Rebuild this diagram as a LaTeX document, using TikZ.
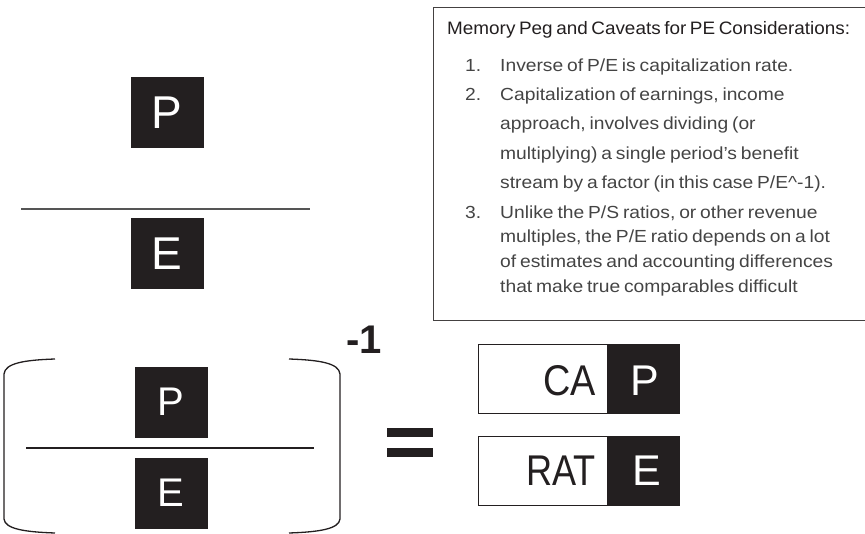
\documentclass[tikz,border=0pt]{standalone}
\usepackage{fontspec}
\setmainfont{Liberation Sans}
\newfontfamily\titlefont[FakeStretch=1.05]{Liberation Sans}
\newfontfamily\listfont[FakeStretch=1.1]{Liberation Sans}
\newcommand\titlesp{\spaceskip=0.2em\relax}
\newcommand\listsp{\spaceskip=0.22em plus 0.05em\relax}
\definecolor{boxfill}{HTML}{231F20}
\definecolor{listgray}{HTML}{444444}
\definecolor{rulegray}{HTML}{555555}
\begin{document}
\begin{tikzpicture}[x=1pt,y=-1pt,
  darkbox/.style={fill=boxfill,draw=boxfill,inner sep=0pt,text=white,
    minimum width=72pt,minimum height=70pt,anchor=north west,
    font=\fontsize{46}{46}\selectfont},
  smallbox/.style={darkbox,font=\fontsize{40}{40}\selectfont},
  listline/.style={inner sep=0pt,anchor=base west,text=listgray,
    font=\listfont\fontsize{17.5}{17.5}\selectfont\listsp},
  listnum/.style={listline},
  capbox/.style={draw=boxfill,line width=1.2pt,fill=white,inner sep=0pt,anchor=north west,
    minimum width=129pt,minimum height=69pt},
  captext/.style={inner sep=0pt,anchor=base east,font=\fontsize{43}{43}\selectfont,text=boxfill},
  brk/.style={draw=boxfill,line width=1.3pt}
]
\useasboundingbox (0,0) rectangle (865,534);

% ---- top fraction
\node[darkbox] (P1) at (131,77) {P};
\node[darkbox] (E1) at (131,218) {E};
\coordinate (L1a) at (21,209);
\coordinate (L1b) at (310,209);
\draw[rulegray,line width=1.7pt] (L1a) -- (L1b);

% ---- text box
\node[draw=boxfill!85,line width=1.3pt,anchor=north west,minimum width=440pt,minimum height=313pt,inner sep=0pt] (tb) at (433,7) {};
\node[inner sep=0pt,anchor=base west,text=boxfill,font=\titlefont\fontsize{18}{18}\selectfont\titlesp] (title) at (447,35) {Memory Peg and Caveats for PE Considerations:};
\node[listnum] (n1) at (465,72) {1.};
\node[listline] (t1) at (500,72) {Inverse of P/E is capitalization rate.};
\node[listnum] (n2) at (465,101) {2.};
\node[listline] (t2a) at (500,101) {Capitalization of earnings, income};
\node[listline] (t2b) at (500,130) {approach, involves dividing (or};
\node[listline] (t2c) at (500,160) {multiplying) a single period’s benefit};
\node[listline] (t2d) at (500,189) {stream by a factor (in this case P/E\textasciicircum-1).};
\node[listnum] (n3) at (465,219) {3.};
\node[listline] (t3a) at (500,219) {Unlike the P/S ratios, or other revenue};
\node[listline] (t3b) at (500,243) {multiples, the P/E ratio depends on a lot};
\node[listline] (t3c) at (500,268) {of estimates and accounting differences};
\node[listline] (t3d) at (500,293) {that make true comparables difficult};

% ---- bracketed fraction
\node[smallbox] (P2) at (135,367) {P};
\node[smallbox] (E2) at (135,458) {E};
\coordinate (L2a) at (26,448);
\coordinate (L2b) at (314,448);
\draw[boxfill,line width=1.1pt] (L2a) -- (L2b);
\coordinate (BLt) at (55,359);
\coordinate (BLb) at (55,533);
\coordinate (BRt) at (289,359);
\coordinate (BRb) at (289,533);
\draw[brk] (BLt) .. controls (25,360) and (5,363) .. (4,374) -- (4,519) .. controls (5,529) and (25,532) .. (BLb);
\draw[brk] (BRt) .. controls (319,360) and (339,363) .. (340,374) -- (340,519) .. controls (339,529) and (319,532) .. (BRb);
\node[inner sep=0pt,anchor=base west,font=\bfseries\fontsize{40}{40}\selectfont,text=boxfill] (exp) at (346,354) {-1};

% ---- equals
\node[fill=boxfill,inner sep=0pt,minimum width=46pt,minimum height=9pt,anchor=north west] (eqa) at (387,428) {};
\node[fill=boxfill,inner sep=0pt,minimum width=46pt,minimum height=9pt,anchor=north west] (eqb) at (387,448) {};

% ---- CAP / RATE
\node[capbox] (cab) at (478,344) {};
\node[darkbox,minimum height=69pt] (P3) at (607,344) {};
\node[inner sep=0pt,anchor=base,text=white,font=\fontsize{43}{43}\selectfont] (P3t) at (645,396) {P};
\node[captext] (cat) at (596,396) {\scalebox{0.88}[1]{CA}};
\node[capbox] (rab) at (478,436) {};
\node[darkbox,minimum height=69pt] (E3) at (607,436) {};
\node[inner sep=0pt,anchor=base,text=white,font=\fontsize{43}{43}\selectfont] (E3t) at (647,485) {E};
\node[captext] (rat) at (596,485) {\scalebox{0.84}[1]{RAT}};
\end{tikzpicture}
\end{document}
